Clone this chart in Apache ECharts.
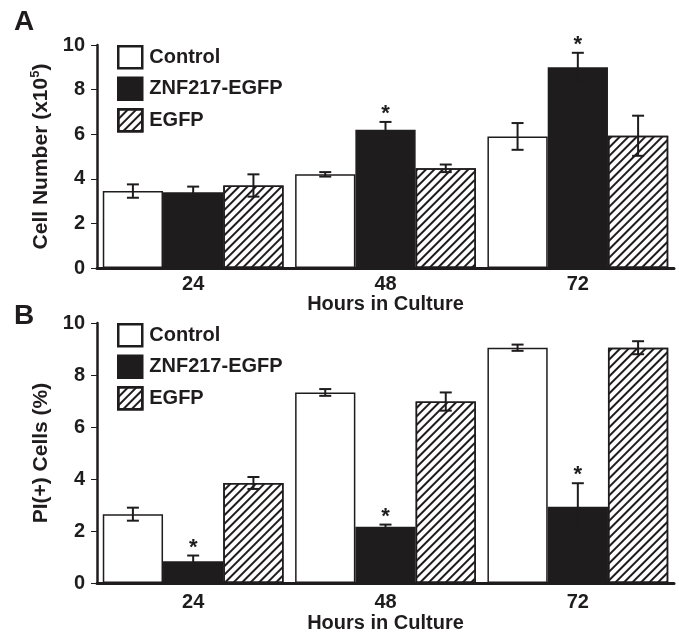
<!DOCTYPE html>
<html>
<head>
<meta charset="utf-8">
<script src="https://cdn.jsdelivr.net/npm/echarts@6/dist/echarts.min.js"></script>
<style>
  html, body { margin: 0; padding: 0; background: #fff; }
  #main { width: 679px; height: 634px; }
</style>
</head>
<body>
<div id="main"></div>
<script>
var hours = ['24', '48', '72'];
var groupNames = ['Control', 'ZNF217-EGFP', 'EGFP'];
var yTicks = [0, 2, 4, 6, 8, 10];

// panel A: cell number (x10^5)
var cellControl = [3.45, 4.2, 5.9];
var cellControlErr = [0.3, 0.1, 0.6];
var cellZnf = [3.4, 6.2, 9.0];
var cellZnfErr = [0.25, 0.35, 0.65];
var cellEgfp = [3.7, 4.47, 5.93];
var cellEgfpErr = [0.5, 0.17, 0.9];
var cellZnfSig = [0, 1, 1];

// panel B: PI(+) cells (%)
var piControl = [2.65, 7.33, 9.05];
var piControlErr = [0.25, 0.13, 0.12];
var piZnf = [0.84, 2.17, 2.94];
var piZnfErr = [0.22, 0.08, 0.9];
var piEgfp = [3.85, 6.98, 9.05];
var piEgfpErr = [0.23, 0.35, 0.25];
var piZnfSig = [1, 1, 1];

var FONT = 'Liberation Sans, Arial, sans-serif';
var INK = '#1f1c1d';
var CAT_GAP = 0.06;

var hatch = {
  symbol: 'rect',
  symbolSize: 1,
  color: INK,
  dashArrayX: [1, 0],
  dashArrayY: [2, 3.6],
  rotation: -Math.PI / 4
};
var barStyles = [
  { color: '#fff', borderColor: INK, borderWidth: 1.5 },
  { color: INK, borderColor: INK, borderWidth: 1.5 },
  { color: '#fff', borderColor: INK, borderWidth: 1.5, decal: hatch }
];

function errorBars(params, api) {
  var cat = api.value(0), v = api.value(1), e = api.value(2), k = api.value(3), sig = api.value(4);
  var band = api.size([1, 0])[0];
  var groupW = band * (1 - CAT_GAP);
  var barW = groupW / 3;
  var x = api.coord([cat, v])[0] - groupW / 2 + barW * (k + 0.5);
  var yt = api.coord([cat, v + e])[1];
  var yb = api.coord([cat, v - e])[1];
  var st = { stroke: INK, lineWidth: 2 };
  var kids = [
    { type: 'line', shape: { x1: x, y1: yt, x2: x, y2: yb }, style: st },
    { type: 'line', shape: { x1: x - 6, y1: yt, x2: x + 6, y2: yt }, style: st },
    { type: 'line', shape: { x1: x - 6, y1: yb, x2: x + 6, y2: yb }, style: st }
  ];
  if (sig) {
    kids.push({
      type: 'text', x: x, y: yt + 3,
      style: { text: '*', fontSize: 22, fontWeight: 'bold', fontFamily: FONT, fill: INK, align: 'center', verticalAlign: 'bottom' }
    });
  }
  return { type: 'group', children: kids };
}

function errData(vals, errs, sig) {
  var out = [];
  for (var k = 0; k < vals.length; k++) {
    for (var i = 0; i < hours.length; i++) {
      out.push([i, vals[k][i], errs[k][i], k, (k === 1 && sig[i]) ? 1 : 0]);
    }
  }
  return out;
}

var labelStyle = { fontSize: 20, fontWeight: 'bold', fontFamily: FONT, color: INK };

function panelAxes(idx, yName, xLabelMargin, xNameGap) {
  return {
    x: {
      type: 'category', gridIndex: idx, data: hours,
      axisLine: { lineStyle: { color: INK, width: 3 } },
      axisTick: { show: false },
      axisLabel: Object.assign({ margin: xLabelMargin }, labelStyle),
      name: 'Hours in Culture', nameLocation: 'middle', nameGap: xNameGap,
      nameTextStyle: labelStyle
    },
    y: {
      type: 'value', gridIndex: idx,
      min: yTicks[0], max: yTicks[yTicks.length - 1], interval: yTicks[1] - yTicks[0],
      splitLine: { show: false },
      axisLine: { show: true, lineStyle: { color: INK, width: 2.5 } },
      axisTick: { show: true, length: 6, lineStyle: { color: INK, width: 1 } },
      axisLabel: Object.assign({ margin: 12 }, labelStyle),
      name: yName, nameLocation: 'middle', nameGap: 31,
      nameTextStyle: {
        fontSize: 21, fontWeight: 'bold', fontFamily: FONT, color: INK,
        rich: { sup: { fontSize: 13, fontWeight: 'bold', fontFamily: FONT, color: INK, padding: [0, 0, 12, 0] } }
      }
    }
  };
}

var axA = panelAxes(0, 'Cell Number (x10{sup|5})', 6, 26);
var axB = panelAxes(1, 'PI(+) Cells (%)', 9, 23);

var legendCommon = {
  orient: 'vertical', left: 112, itemWidth: 24, itemHeight: 22, itemGap: 7,
  icon: 'rect', data: groupNames, selectedMode: false,
  itemStyle: { borderWidth: 2.5, borderColor: INK },
  textStyle: { fontSize: 20, fontWeight: 'bold', fontFamily: FONT, color: INK, padding: [0, 0, 0, 2] }
};

var series = [];
var setA = [cellControl, cellZnf, cellEgfp];
var setB = [piControl, piZnf, piEgfp];
[setA, setB].forEach(function (set, p) {
  set.forEach(function (vals, k) {
    series.push({
      name: groupNames[k], type: 'bar', xAxisIndex: p, yAxisIndex: p,
      data: vals, barGap: '0%', barCategoryGap: (CAT_GAP * 100) + '%',
      itemStyle: barStyles[k], silent: true
    });
  });
});
series.push({
  name: 'errA', type: 'custom', xAxisIndex: 0, yAxisIndex: 0, z: 5, silent: true,
  renderItem: errorBars,
  data: errData(setA, [cellControlErr, cellZnfErr, cellEgfpErr], cellZnfSig)
});
series.push({
  name: 'errB', type: 'custom', xAxisIndex: 1, yAxisIndex: 1, z: 5, silent: true,
  renderItem: errorBars,
  data: errData(setB, [piControlErr, piZnfErr, piEgfpErr], piZnfSig)
});

var chart = echarts.init(document.getElementById('main'));
chart.setOption({
  animation: false,
  backgroundColor: '#fff',
  title: [
    { text: 'A', left: 9, top: 3, textStyle: { fontSize: 28, fontWeight: 'bold', fontFamily: FONT, color: INK } },
    { text: 'B', left: 9, top: 297, textStyle: { fontSize: 28, fontWeight: 'bold', fontFamily: FONT, color: INK } }
  ],
  legend: [
    Object.assign({ top: 40 }, legendCommon),
    Object.assign({ top: 318 }, legendCommon)
  ],
  grid: [
    { left: 97, top: 45, width: 577, height: 223 },
    { left: 97, top: 323, width: 577, height: 262 }
  ],
  xAxis: [axA.x, axB.x],
  yAxis: [axA.y, axB.y],
  series: series
});
</script>
</body>
</html>
